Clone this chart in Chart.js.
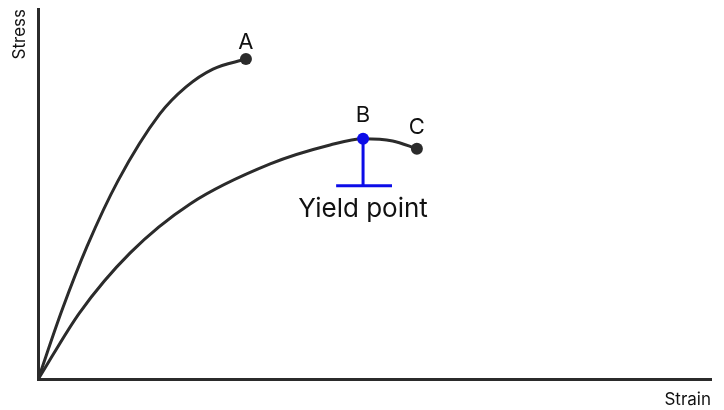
<!DOCTYPE html>
<html>
<head>
<meta charset="utf-8">
<script src="https://cdn.jsdelivr.net/npm/chart.js@4"></script>
<style>
  html, body { margin: 0; background: #fff; }
</style>
</head>
<body>
<canvas id="chart" width="724" height="410"></canvas>
<script>
// curve ending at A (brittle)
const strainA = [0, 3.6, 7.3, 11.9, 18.1, 22.0, 26.0, 30.9];
const stressA = [0, 18.9, 36.0, 53.7, 71.7, 79.0, 83.8, 86.5];

// curve through B ending at C (ductile)
const strainC = [0, 6.2, 13.7, 22.6, 34.5, 43.4, 48.3, 52.7, 56.3];
const stressC = [0, 18.1, 34.2, 47.4, 58.2, 63.3, 65.0, 64.4, 62.3];

const yieldIndex = 6;           // B sits on the C curve
const yieldBarStress = 52.3;    // level of the T bar under B
const yieldBarStrain = [44.3, 52.6];

const pointLabels = ['A', 'B', 'C'];
const axisTitles = { x: 'Strain', y: 'Stress' };
const yieldText = 'Yield point';

const INK = '#2b2b2b';
const BLUE = '#0c0ce8';
const FONT = 'Inter, "Noto Sans", sans-serif';

const toXY = (xs, ys) => xs.map((x, i) => ({ x: x, y: ys[i] }));
const lastOnly = r => ctx => ctx.dataIndex === ctx.dataset.data.length - 1 ? r : 0;

const yieldPt = { x: strainC[yieldIndex], y: stressC[yieldIndex] };

const labelPlugin = {
    id: 'pointLabels',
    afterDatasetsDraw(chart) {
        const { ctx, scales: { x, y } } = chart;
        const aEnd = { x: strainA[strainA.length - 1], y: stressA[stressA.length - 1] };
        const cEnd = { x: strainC[strainC.length - 1], y: stressC[stressC.length - 1] };
        const spots = [
            { p: aEnd, dy: -10 },
            { p: yieldPt, dy: -17 },
            { p: cEnd, dy: -15 }
        ];
        ctx.save();
        ctx.fillStyle = '#111';
        ctx.textAlign = 'center';
        ctx.textBaseline = 'alphabetic';
        ctx.font = '22px ' + FONT;
        spots.forEach((s, i) => {
            ctx.fillText(pointLabels[i], x.getPixelForValue(s.p.x), y.getPixelForValue(s.p.y) + s.dy);
        });
        ctx.font = '26px ' + FONT;
        ctx.fillText(yieldText, x.getPixelForValue(yieldPt.x), y.getPixelForValue(yieldBarStress) + 31);
        ctx.restore();
    }
};

const axisOpts = (text, align, pad) => ({
    type: 'linear',
    min: 0,
    max: 100,
    grid: { display: false, drawTicks: false },
    ticks: { display: false },
    border: { display: true, color: INK, width: 3 },
    title: {
        display: true,
        text: text,
        align: align,
        color: '#111',
        font: { family: FONT, size: 17 },
        padding: pad
    }
});

const curve = (xs, ys) => ({
    data: toXY(xs, ys),
    borderColor: INK,
    borderWidth: 3,
    pointRadius: lastOnly(6),
    pointBackgroundColor: INK,
    pointBorderWidth: 0,
    showLine: true,
    cubicInterpolationMode: 'monotone',
    order: 2
});

new Chart(document.getElementById('chart'), {
    type: 'scatter',
    data: {
        datasets: [
            {
                data: [yieldPt],
                pointRadius: 6,
                pointBackgroundColor: BLUE,
                pointBorderWidth: 0,
                showLine: false,
                order: 0
            },
            {
                data: [yieldPt, { x: yieldPt.x, y: yieldBarStress }],
                borderColor: BLUE,
                borderWidth: 3,
                pointRadius: 0,
                showLine: true,
                order: 1
            },
            {
                data: yieldBarStrain.map(v => ({ x: v, y: yieldBarStress })),
                borderColor: BLUE,
                borderWidth: 3,
                pointRadius: 0,
                showLine: true,
                order: 1
            },
            curve(strainA, stressA),
            curve(strainC, stressC)
        ]
    },
    options: {
        responsive: false,
        animation: false,
        layout: { padding: { left: 0, right: 13, top: 9, bottom: 0 } },
        plugins: {
            legend: { display: false },
            tooltip: { enabled: false }
        },
        scales: {
            x: axisOpts(axisTitles.x, 'end', { top: 10, bottom: 0 }),
            y: axisOpts(axisTitles.y, 'end', { top: 10, bottom: 7.6 })
        }
    },
    plugins: [labelPlugin]
});
</script>
</body>
</html>
